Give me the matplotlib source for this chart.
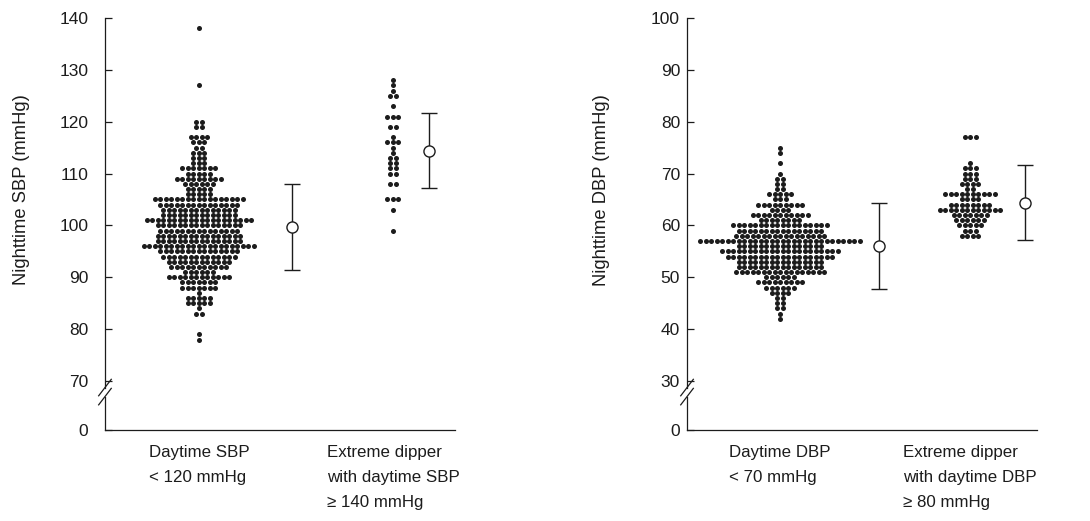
"""
Nighttime blood pressure by daytime group - dot plots with mean ± SD
"""

import numpy as np
import matplotlib
matplotlib.use("Agg")
import matplotlib.pyplot as plt

plt.rcParams["font.family"] = ["Liberation Sans", "DejaVu Sans"]

INK = "#1c1c1c"

# ── Nighttime SBP (mmHg): value -> number of subjects ─────────────
SBP_LOW_VALUES = [138, 127, 120, 119, 117, 116, 115, 114, 113, 112, 111, 110,
                  109, 108, 107, 106, 105, 104, 103, 102, 101, 100, 99, 98,
                  97, 96, 95, 94, 93, 92, 91, 90, 89, 88, 87, 86, 85, 84, 83,
                  79, 78]
SBP_LOW_COUNTS = [1, 1, 2, 2, 4, 3, 2, 3, 3, 3, 7, 5,
                  9, 6, 5, 5, 17, 15, 14, 14, 20, 16, 15, 16,
                  16, 21, 15, 14, 12, 11, 6, 12, 7, 7, 1, 5, 5, 1, 2,
                  1, 1]

SBP_DIP_VALUES = [128, 127, 126, 125, 123, 121, 119, 117, 116, 115, 114, 113,
                  112, 111, 110, 108, 105, 103, 99]
SBP_DIP_COUNTS = [1, 1, 1, 2, 1, 3, 2, 1, 3, 1, 1, 2,
                  2, 2, 2, 2, 3, 1, 1]

# ── Nighttime DBP (mmHg) ──────────────────────────────────────────
DBP_LOW_VALUES = [75, 74, 72, 70, 69, 68, 67, 66, 65, 64, 63, 62, 61, 60, 59,
                  58, 57, 56, 55, 54, 53, 52, 51, 50, 49, 48, 47, 46, 45, 44,
                  43, 42]
DBP_LOW_COUNTS = [1, 1, 1, 1, 2, 2, 2, 5, 3, 9, 4, 11, 8, 18, 16,
                  17, 30, 16, 22, 20, 16, 16, 17, 6, 9, 6, 4, 2, 2, 2,
                  1, 1]

DBP_DIP_VALUES = [77, 72, 71, 70, 69, 68, 67, 66, 65, 64, 63, 62, 61, 60, 59, 58]
DBP_DIP_COUNTS = [3, 1, 3, 3, 3, 4, 2, 10, 4, 8, 12, 7, 6, 5, 3, 4]

# mean ± SD for each group (low, extreme dipper)
SBP_MEAN = [99.7, 114.4]
SBP_SD = [8.3, 7.2]
DBP_MEAN = [56.0, 64.4]
DBP_SD = [8.3, 7.2]

SBP_TICKS = [70, 80, 90, 100, 110, 120, 130, 140]
DBP_TICKS = [30, 40, 50, 60, 70, 80, 90, 100]

SBP_GROUPS = ["Daytime SBP\n< 120 mmHg",
              "Extreme dipper\nwith daytime SBP\n\u2265 140 mmHg"]
DBP_GROUPS = ["Daytime DBP\n< 70 mmHg",
              "Extreme dipper\nwith daytime DBP\n\u2265 80 mmHg"]


def dot_column(ax, cx, values, counts, step=0.055):
    xs, ys = [], []
    for v, n in zip(values, counts):
        offs = (np.arange(n) - (n - 1) / 2) * step
        xs.extend(cx + offs)
        ys.extend([v] * n)
    ax.scatter(xs, ys, s=13, color=INK, linewidths=0, zorder=3)


def panel(ax, ticks, zero_pos, groups, low, dip, means, sds, ylabel,
          dot_x, bar_x, ypad, label_x):
    dot_column(ax, dot_x[0], *low)
    dot_column(ax, dot_x[1], *dip)

    ax.errorbar(bar_x, means, yerr=sds, fmt="o", ms=8, mfc="white",
                mec=INK, mew=1.0, color=INK, elinewidth=1.0, capsize=5.5,
                capthick=1.0, zorder=4)

    ax.set_xlim(0, 3.5)
    ax.set_ylim(zero_pos, ticks[-1])

    # "0" sits just below the break
    ax.set_yticks([zero_pos] + ticks)
    ax.set_yticklabels(["0"] + [str(t) for t in ticks])
    ax.tick_params(axis="y", direction="in", length=5, width=0.9,
                   labelsize=12.5, pad=ypad, colors=INK)

    ax.set_xticks(dot_x)
    ax.set_xticklabels(groups)
    ax.tick_params(axis="x", length=0, labelsize=12.2, pad=11, colors=INK)
    for lab in ax.get_xticklabels():
        lab.set_multialignment("left")
        lab.set_linespacing(1.82)
        lab.set_verticalalignment("top")

    for s in ["top", "right", "left"]:
        ax.spines[s].set_visible(False)
    ax.spines["bottom"].set_linewidth(0.9)
    ax.spines["bottom"].set_color(INK)

    # broken y axis
    g, h = 0.092, 0.011
    kw = dict(transform=ax.transAxes, color=INK, lw=0.9, clip_on=False)
    ax.plot([0, 0], [0, g - h], **kw)
    ax.plot([0, 0], [g + h, 1], **kw)
    for yy in (g - h, g + h):
        ax.plot([-0.018, 0.018], [yy - 0.02, yy + 0.02], **kw)

    ax.set_ylabel(ylabel, fontsize=13.2, color=INK)
    ax.yaxis.set_label_coords(label_x, 0.583)


fig = plt.figure(figsize=(10.9, 5.21), dpi=100)
ax1 = fig.add_axes([0.0963, 0.1747, 0.3211, 0.7908])
ax2 = fig.add_axes([0.6303, 0.1747, 0.3211, 0.7908])

panel(ax1, SBP_TICKS, 60.56, SBP_GROUPS,
      (SBP_LOW_VALUES, SBP_LOW_COUNTS), (SBP_DIP_VALUES, SBP_DIP_COUNTS),
      SBP_MEAN, SBP_SD, "Nighttime SBP (mmHg)",
      dot_x=[0.94, 2.88], bar_x=[1.87, 3.24], ypad=12, label_x=-0.215)
panel(ax2, DBP_TICKS, 20.56, DBP_GROUPS,
      (DBP_LOW_VALUES, DBP_LOW_COUNTS), (DBP_DIP_VALUES, DBP_DIP_COUNTS),
      DBP_MEAN, DBP_SD, "Nighttime DBP (mmHg)",
      dot_x=[0.93, 2.83], bar_x=[1.92, 3.38], ypad=5, label_x=-0.22)

fig.savefig("out.png", dpi=100)
plt.close(fig)
